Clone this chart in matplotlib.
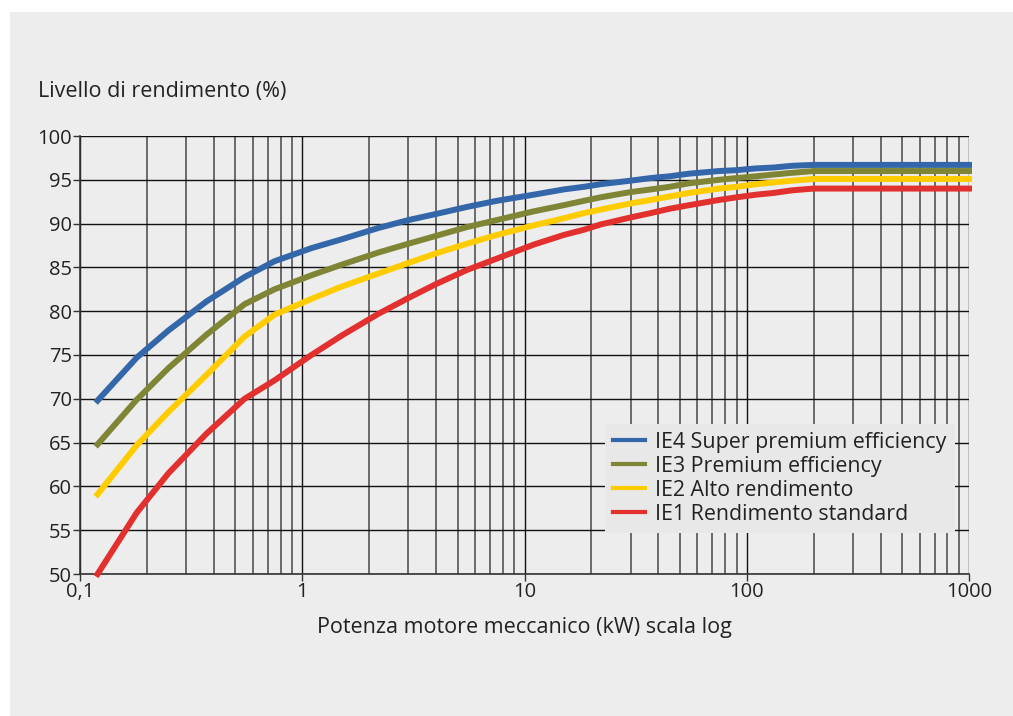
import matplotlib
matplotlib.use("Agg")
import matplotlib.pyplot as plt
from matplotlib.ticker import FixedLocator, NullFormatter, LogLocator
from matplotlib.patches import Rectangle

# Data (IEC 4-pole efficiency classes)
power_kw = [0.12, 0.18, 0.25, 0.37, 0.55, 0.75, 1.1, 1.5, 2.2, 3, 4, 5.5, 7.5,
            11, 15, 18.5, 22, 30, 37, 45, 55, 75, 90, 110, 132, 160, 200, 1000]
ie4 = [69.8, 74.7, 77.8, 81.1, 83.9, 85.7, 87.2, 88.2, 89.5, 90.4, 91.1, 91.9, 92.6,
       93.3, 93.9, 94.2, 94.5, 94.9, 95.2, 95.4, 95.7, 96.0, 96.1, 96.3, 96.4, 96.6, 96.7, 96.7]
ie3 = [64.8, 69.9, 73.5, 77.3, 80.8, 82.5, 84.1, 85.3, 86.7, 87.7, 88.6, 89.6, 90.4,
       91.4, 92.1, 92.6, 93.0, 93.6, 93.9, 94.2, 94.6, 95.0, 95.2, 95.4, 95.6, 95.8, 96.0, 96.0]
ie2 = [59.1, 64.7, 68.5, 72.7, 77.1, 79.6, 81.4, 82.8, 84.3, 85.5, 86.6, 87.7, 88.7,
       89.8, 90.6, 91.2, 91.6, 92.3, 92.7, 93.1, 93.5, 94.0, 94.2, 94.5, 94.7, 94.9, 95.1, 95.1]
ie1 = [50.0, 57.0, 61.5, 66.0, 70.0, 72.1, 75.0, 77.2, 79.7, 81.5, 83.1, 84.7, 86.0,
       87.6, 88.7, 89.3, 89.9, 90.7, 91.2, 91.7, 92.1, 92.7, 93.0, 93.3, 93.5, 93.8, 94.0, 94.0]

series_labels = ["IE4 Super premium efficiency", "IE3 Premium efficiency",
                 "IE2 Alto rendimento", "IE1 Rendimento standard"]
series_colors = ["#3367a9", "#7f8534", "#ffcc00", "#e2302e"]

x_ticks = [0.1, 1, 10, 100, 1000]
x_ticklabels = ["0,1", "1", "10", "100", "1000"]
y_ticks = [50, 55, 60, 65, 70, 75, 80, 85, 90, 95, 100]

plt.rcParams['font.family'] = ['Open Sans', 'DejaVu Sans']
TXT = "#222222"
BG = "#ededed"

W, H = 1013, 716
fig = plt.figure(figsize=(W / 100, H / 100), dpi=100)
fig.patch.set_facecolor("white")
fig.patches.append(Rectangle((10 / W, 0), 1 - 10 / W, 1 - 12 / H,
                             transform=fig.transFigure, facecolor=BG,
                             edgecolor="none", zorder=-10))

ax = fig.add_axes([80 / W, (H - 574) / H, (969 - 80) / W, (574 - 136) / H])
ax.set_facecolor(BG)
ax.set_xscale("log")
ax.set_xlim(0.1, 1000)
ax.set_ylim(50, 100)

ax.xaxis.set_major_locator(FixedLocator(x_ticks))
ax.set_xticklabels(x_ticklabels)
ax.xaxis.set_minor_locator(LogLocator(base=10, subs=range(2, 10), numticks=20))
ax.xaxis.set_minor_formatter(NullFormatter())
ax.set_yticks(y_ticks)

ax.grid(which="major", axis="both", color="#111111", lw=1.0, zorder=1)
ax.grid(which="minor", axis="x", color="#6a6a6a", lw=1.4, zorder=1)
ax.tick_params(axis="both", which="major", length=5, width=1, color="#333333",
               labelsize=14.5, labelcolor=TXT, pad=1)
ax.tick_params(axis="x", which="minor", length=0)
for s in ["top", "right"]:
    ax.spines[s].set_visible(False)
for s in ["left", "bottom"]:
    ax.spines[s].set_color("#333333")
    ax.spines[s].set_linewidth(1.2)

for vals, lab, col in zip([ie4, ie3, ie2, ie1], series_labels, series_colors):
    ax.plot(power_kw, vals, color=col, lw=4.3, label=lab, zorder=3,
            solid_joinstyle="miter", clip_on=False)

leg = ax.legend(loc="lower right", bbox_to_anchor=((955 - 80) / (969 - 80), (574 - 533) / (574 - 136)),
                frameon=True, fontsize=15.4, handlelength=1.5, handletextpad=0.5,
                labelspacing=0.14, borderpad=0.38, borderaxespad=0)
leg.get_frame().set_facecolor("#e8e8e8")
leg.get_frame().set_edgecolor("none")
leg.get_frame().set_alpha(1)
leg.get_frame().set_boxstyle("square", pad=0)
for t in leg.get_texts():
    t.set_color(TXT)
for h in leg.get_lines():
    h.set_linewidth(3.0)
leg.set_zorder(5)

fig.text(38 / W, 1 - 92 / H, "Livello di rendimento (%)", fontsize=15.5,
         color=TXT, ha="left", va="center")
fig.text(524 / W, 1 - 628 / H, "Potenza motore meccanico (kW) scala log",
         fontsize=15.5, color=TXT, ha="center", va="center")

fig.savefig("out.png", dpi=100, facecolor=fig.get_facecolor())
